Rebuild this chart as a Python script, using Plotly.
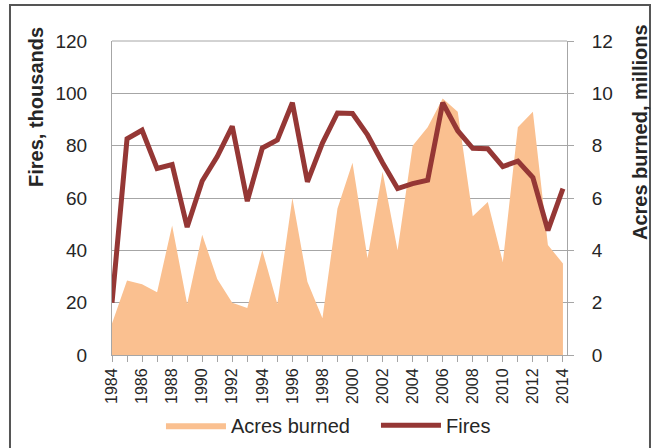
import plotly.graph_objects as go

years = list(range(1984, 2015))
fires_thousands = [20, 82.6, 85.9, 71.3, 72.8, 48.9, 66.5, 75.8, 87.4, 58.8,
                   79.1, 82.2, 96.4, 66.2, 81.0, 92.5, 92.3, 84.1, 73.5, 63.6,
                   65.5, 66.8, 96.4, 85.7, 79.0, 78.8, 72.0, 74.1, 67.8, 47.6, 63.6]
acres_millions = [1.2, 2.85, 2.7, 2.4, 4.95, 1.95, 4.6, 2.9, 2.0, 1.8,
                  4.0, 1.95, 6.0, 2.8, 1.4, 5.6, 7.35, 3.7, 7.0, 4.0,
                  8.0, 8.7, 9.8, 9.3, 5.3, 5.85, 3.55, 8.7, 9.3, 4.2, 3.5]
tick_labels = [str(y) if y % 2 == 0 else "" for y in years]

FONT = "Liberation Sans"
GRID = "#A6A6A6"

fig = go.Figure()
fig.add_trace(go.Scatter(
    x=years, y=acres_millions, name="Acres burned", mode="lines",
    line=dict(width=0, color="#FAC090"), fill="tozeroy", fillcolor="#FAC090",
    yaxis="y"))
fig.add_trace(go.Scatter(
    x=years, y=fires_thousands, name="Fires", mode="lines",
    line=dict(width=5, color="#953735"), yaxis="y2"))

fig.update_layout(
    width=655, height=448,
    margin=dict(l=112, r=88, t=41, b=93, autoexpand=False),
    paper_bgcolor="white", plot_bgcolor="white",
    font=dict(family=FONT, size=19, color="#262626"),
    showlegend=True,
    legend=dict(orientation="h", xref="container", yref="container",
                x=0.574, xanchor="center", y=0.051, yanchor="middle",
                font=dict(size=20), itemwidth=60, entrywidth=140,
                bgcolor="rgba(0,0,0,0)"),
    xaxis=dict(range=[1984, 2014.27], tickmode="array", tickvals=years,
               ticktext=tick_labels, tickangle=-90, ticks="outside", ticklen=6,
               tickcolor=GRID, showline=True, linecolor=GRID, linewidth=1,
               showgrid=False, zeroline=False, tickfont=dict(size=16),
               automargin=False),
    yaxis=dict(side="right", range=[0, 12], tickvals=[0, 2, 4, 6, 8, 10, 12],
               ticks="outside", ticklen=6, tickcolor=GRID, showline=True,
               linecolor=GRID, linewidth=1, showgrid=True, gridcolor=GRID,
               gridwidth=1, zeroline=False, ticklabelstandoff=14,
               tickfont=dict(size=19), automargin=False),
    yaxis2=dict(side="left", overlaying="y", range=[0, 120],
                tickvals=[0, 20, 40, 60, 80, 100, 120], showgrid=False,
                showline=True, linecolor=GRID, linewidth=1, zeroline=False,
                ticks="", ticklabelstandoff=20, tickfont=dict(size=19),
                automargin=False),
    annotations=[
        dict(text="<b>Fires, thousands</b>", xref="paper", yref="paper",
             x=-0.167, y=0.79, textangle=-90, showarrow=False,
             font=dict(size=20, color="#262626"), xanchor="center", yanchor="middle"),
        dict(text="<b>Acres burned, millions</b>", xref="paper", yref="paper",
             x=1.1604, y=0.71, textangle=-90, showarrow=False,
             font=dict(size=20, color="#262626"), xanchor="center", yanchor="middle"),
    ],
    shapes=[
        dict(type="line", xref="paper", yref="paper", x0=0, x1=1, y0=1, y1=1,
             line=dict(color=GRID, width=1)),
        dict(type="rect", xref="paper", yref="paper", x0=-0.2242, x1=1.1824,
             y0=-0.30, y1=1.1146, line=dict(color="#555555", width=2)),
    ],
)

fig.write_html("out.html", config={"displayModeBar": False},
               post_script="document.body.style.margin='0';document.body.style.padding='0';")
